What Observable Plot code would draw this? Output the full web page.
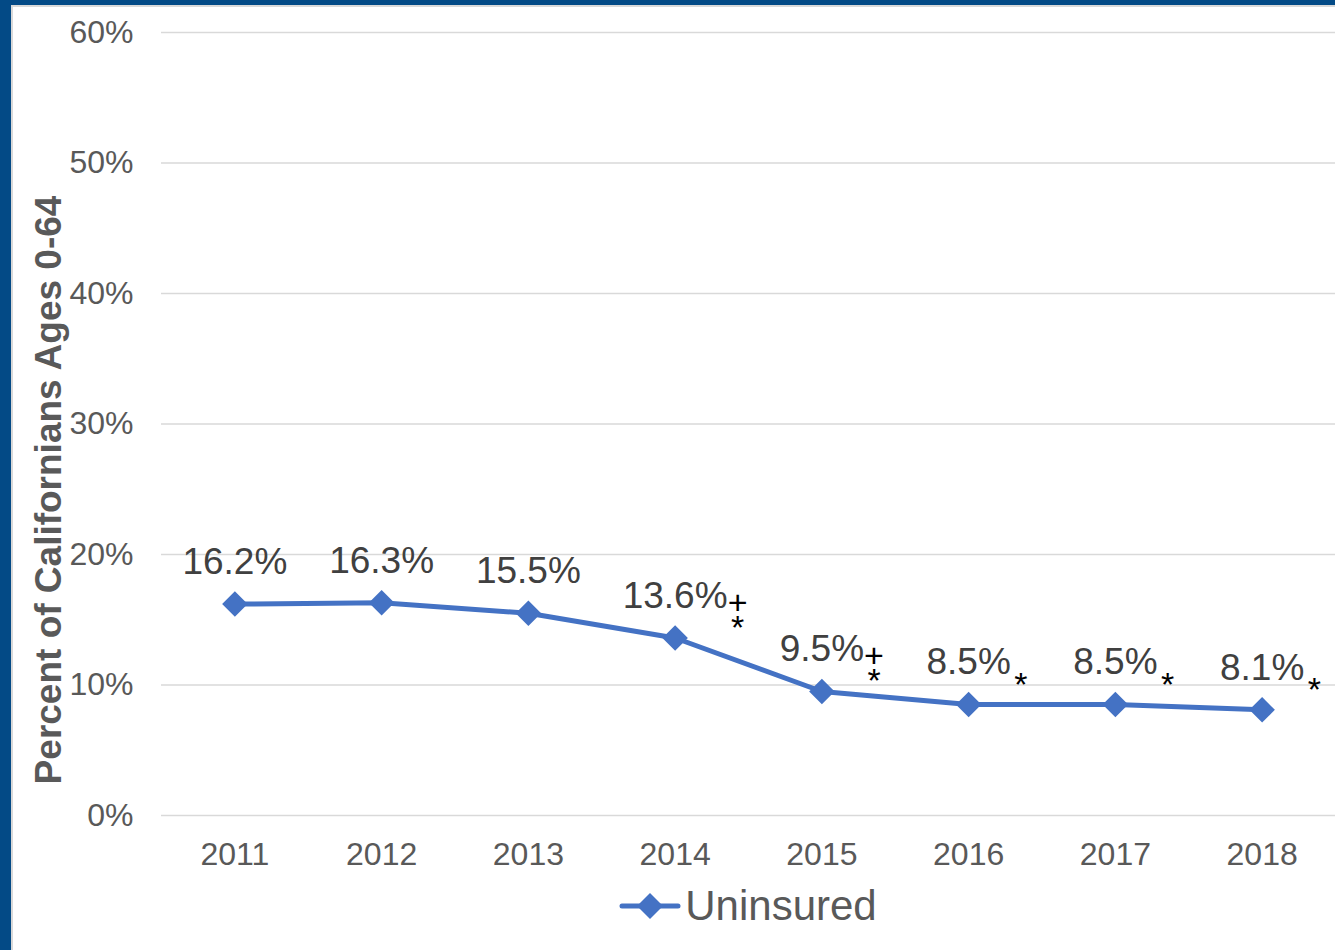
<!DOCTYPE html>
<html>
<head>
<meta charset="utf-8">
<script src="https://cdn.jsdelivr.net/npm/d3@7"></script>
<script src="https://cdn.jsdelivr.net/npm/@observablehq/plot@0.6"></script>
<style>
  html, body { margin: 0; padding: 0; background: #fff; }
  #frame {
    position: absolute; left: 0; top: 0; width: 1335px; height: 950px;
    box-sizing: border-box; overflow: hidden;
    border-top: 5px solid #034A86; border-left: 11px solid #034A86;
  }
  #inner {
    box-sizing: border-box; height: 100%;
    border-top: 2px solid #d9d9d9; border-left: 2px solid #d9d9d9;
    font-family: "Liberation Sans", Arial, sans-serif;
  }
  #chart svg { display: block; overflow: visible; }
  #legend {
    display: flex; align-items: center; justify-content: center;
    padding-left: 148px; height: 58px;
    font-size: 42px; color: #595959;
  }
  #legend svg { display: block; margin-right: 4px; }
</style>
</head>
<body>
<div id="frame"><div id="inner">
  <div id="chart"></div>
  <div id="legend"></div>
</div></div>
<script>
// ---- data ----
const years = ["2011", "2012", "2013", "2014", "2015", "2016", "2017", "2018"];
const uninsured = [16.2, 16.3, 15.5, 13.6, 9.5, 8.5, 8.5, 8.1];
const suffixes = ["", "", "", "+\n*", "+\n*", "*", "*", "*"];
const yTicks = [0, 10, 20, 30, 40, 50, 60];
const seriesName = "Uninsured";
const yTitle = "Percent of Californians Ages 0-64";

const rows = years.map((year, i) => ({year, value: uninsured[i], suffix: suffixes[i], label: uninsured[i].toFixed(1) + "%"}));
const blue = "#4472C4";
const fontFamily = "'Liberation Sans', Arial, sans-serif";
const labelSize = 37;

// measure value-label widths so each suffix sits right after its label
const ctx = document.createElement("canvas").getContext("2d");
ctx.font = `${labelSize}px ${fontFamily}`;
const suffixMarks = rows.filter(r => r.suffix).map(r =>
  Plot.text([r], {
    x: "year", y: "value", text: "suffix",
    dx: ctx.measureText(r.label).width / 2 + 10,
    dy: r.suffix.includes("\n") ? -20 : -17,
    fontSize: 34, fill: "#000", lineHeight: 0.74, textAnchor: "middle"
  })
);

const plot = Plot.plot({
  width: 1322,
  height: 870,
  marginLeft: 148,
  marginRight: 0,
  marginTop: 25,
  marginBottom: 62,
  style: {fontFamily, fontSize: "32px", color: "#595959", background: "transparent"},
  x: {type: "point", domain: years, padding: 0.5, round: false, label: null},
  y: {domain: [0, 60], label: null},
  marks: [
    Plot.gridY(yTicks, {stroke: "#d9d9d9", strokeOpacity: 1, strokeWidth: 1.5}),
    Plot.axisY({ticks: yTicks, tickSize: 0, tickPadding: 28, tickFormat: d => d + "%", label: null, fontSize: 32}),
    Plot.axisX({tickSize: 0, tickPadding: 27, label: null, fontSize: 32}),
    Plot.text([yTitle], {text: d => d, frameAnchor: "left", textAnchor: "middle", lineAnchor: "middle", rotate: -90, dx: -112, dy: 66, fontSize: 37, fontWeight: "bold", fill: "#595959"}),
    Plot.line(rows, {x: "year", y: "value", stroke: blue, strokeWidth: 5}),
    Plot.dot(rows, {x: "year", y: "value", symbol: "diamond2", r: 11.5, fill: blue, stroke: "none"}),
    Plot.text(rows, {x: "year", y: "value", text: "label", dy: -42, fontSize: labelSize, fill: "#404040"}),
    ...suffixMarks
  ]
});
document.getElementById("chart").appendChild(plot);

// legend
const legend = document.getElementById("legend");
const ns = "http://www.w3.org/2000/svg";
const ls = document.createElementNS(ns, "svg");
ls.setAttribute("width", 62); ls.setAttribute("height", 30);
ls.innerHTML = `<line x1="3" y1="15" x2="59" y2="15" stroke="${blue}" stroke-width="5" stroke-linecap="round"/>` +
  `<path d="M31,2 L44,15 L31,28 L18,15 Z" fill="${blue}"/>`;
legend.appendChild(ls);
const span = document.createElement("span");
span.textContent = seriesName;
legend.appendChild(span);
</script>
</body>
</html>
